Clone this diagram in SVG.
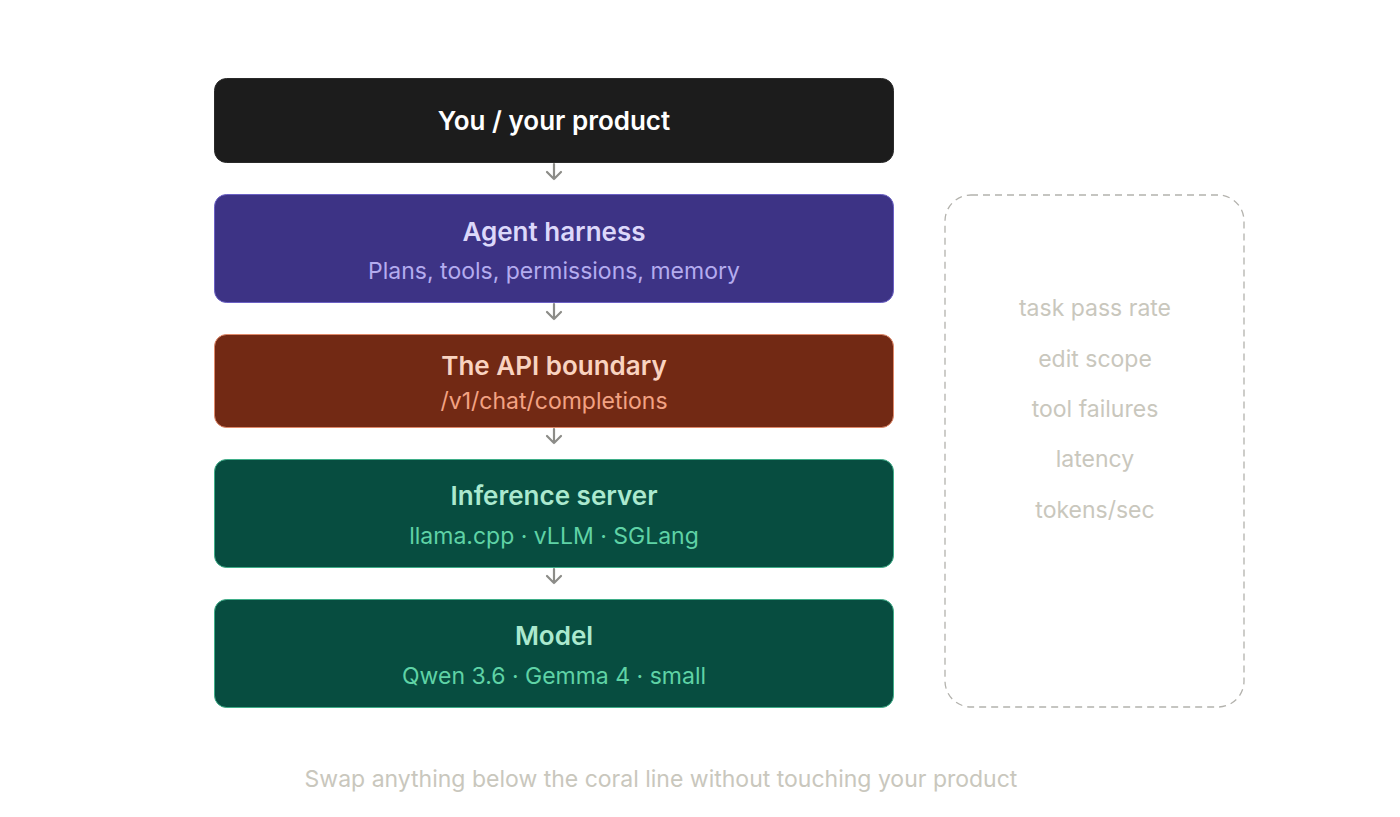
<svg xmlns="http://www.w3.org/2000/svg" width="1400" height="817" viewBox="0 0 1400 817">
<defs>
<style>
.t{font-family:Inter,"Noto Sans","Liberation Sans",sans-serif;text-anchor:middle}
.title{font-size:26px;font-weight:600}
.sub{font-size:23px;font-weight:400}
.muted{font-size:23px;fill:#c9c7bd}
.conn{stroke:#8c8c88;stroke-width:2.2;fill:none;stroke-linecap:round;stroke-linejoin:round}
</style>
</defs>
<rect width="1400" height="817" fill="#ffffff"/>

<g id="connectors">
<path class="conn" d="M554 164 V179 M547 172 L554 179 L561 172"/>
<path class="conn" d="M554 304 V319 M547 312 L554 319 L561 312"/>
<path class="conn" d="M554 429 V443 M547 436 L554 443 L561 436"/>
<path class="conn" d="M554 569 V583 M547 576 L554 583 L561 576"/>
</g>

<g id="node-product">
<rect x="214.5" y="78.5" width="679" height="84" rx="12" fill="#1c1c1c" stroke="#2a2a2a"/>
<text class="t title" x="554" y="130" fill="#ffffff">You / your product</text>
</g>

<g id="node-harness">
<rect x="214.5" y="194.5" width="679" height="108" rx="12" fill="#3d3385" stroke="#6b60c4"/>
<text class="t title" x="554" y="241" fill="#dcd8fa">Agent harness</text>
<text class="t sub" x="554" y="279" fill="#b4acef">Plans, tools, permissions, memory</text>
</g>

<g id="node-api">
<rect x="214.5" y="334.5" width="679" height="93" rx="12" fill="#722914" stroke="#e0896a"/>
<text class="t title" x="554" y="375" fill="#f9d3c0">The API boundary</text>
<text class="t sub" x="554" y="409" fill="#f2a283">/v1/chat/completions</text>
</g>

<g id="node-inference">
<rect x="214.5" y="459.5" width="679" height="108" rx="12" fill="#074d40" stroke="#3fae88"/>
<text class="t title" x="554" y="505" fill="#abe9cf">Inference server</text>
<text class="t sub" x="554" y="544" fill="#5fd3a6">llama.cpp · vLLM · SGLang</text>
</g>

<g id="node-model">
<rect x="214.5" y="599.5" width="679" height="108" rx="12" fill="#074d40" stroke="#3fae88"/>
<text class="t title" x="554" y="645" fill="#abe9cf">Model</text>
<text class="t sub" x="554" y="684" fill="#5fd3a6">Qwen 3.6 · Gemma 4 · small</text>
</g>

<g id="node-metrics">
<rect x="945" y="195" width="299" height="512" rx="26" fill="none" stroke="#b3b2ad" stroke-width="1.3" stroke-dasharray="7 5"/>
<text class="t muted" x="1095" y="316">task pass rate</text>
<text class="t muted" x="1095" y="367">edit scope</text>
<text class="t muted" x="1095" y="417">tool failures</text>
<text class="t muted" x="1095" y="467">latency</text>
<text class="t muted" x="1095" y="518">tokens/sec</text>
</g>

<g id="caption">
<text class="t muted" x="661" y="787">Swap anything below the coral line without touching your product</text>
</g>
</svg>
